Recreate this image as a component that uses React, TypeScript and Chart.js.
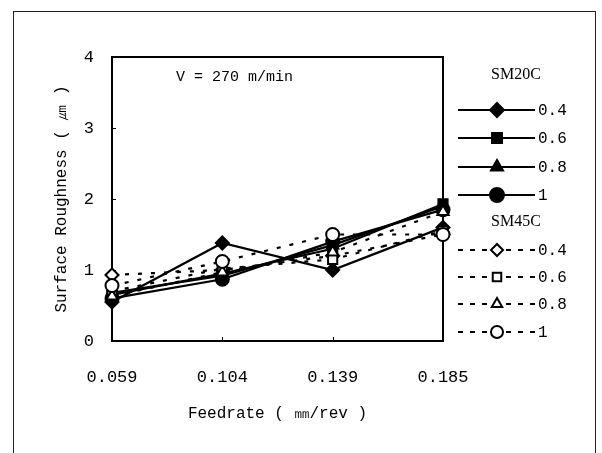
import React, { useEffect, useRef } from 'react';
import { Chart, registerables } from 'chart.js';

Chart.register(...registerables);

// ---------- data ----------
const feedrates = ['0.059', '0.104', '0.139', '0.185'];
const yTickValues = [0, 1, 2, 3, 4];
const seriesLabels = ['0.4', '0.6', '0.8', '1'];
const groupTitles = ['SM20C', 'SM45C'];
const annotationText = 'V = 270 m/min';
const xTitle = 'Feedrate ( ㎜/rev )';
const yTitle = 'Surface Roughness ( ㎛ )';

const sm20c_04 = [0.55, 1.38, 1.0, 1.6];
const sm20c_06 = [0.65, 0.95, 1.3, 1.93];
const sm20c_08 = [0.68, 0.92, 1.35, 1.9];
const sm20c_10 = [0.6, 0.87, 1.4, 1.85];
const sm45c_04 = [0.93, 1.0, 1.2, 1.5];
const sm45c_06 = [0.7, 1.02, 1.15, 1.55];
const sm45c_08 = [0.63, 0.97, 1.25, 1.82];
const sm45c_10 = [0.78, 1.12, 1.5, 1.5];

const markerStyles = ['rectRot', 'rect', 'triangle', 'circle'];

const MONO = '"Liberation Mono", "DejaVu Sans Mono", monospace';
const SERIF = '"Liberation Serif", "DejaVu Serif", serif';

function drawMarker(ctx: CanvasRenderingContext2D, style: string, x: number, y: number, r: number, filled: boolean) {
  ctx.save();
  ctx.setLineDash([]);
  ctx.beginPath();
  if (style === 'circle') {
    ctx.arc(x, y, r, 0, Math.PI * 2);
  } else if (style === 'rect') {
    const s = r * Math.SQRT1_2;
    ctx.rect(x - s, y - s, 2 * s, 2 * s);
  } else if (style === 'rectRot') {
    ctx.moveTo(x, y - r);
    ctx.lineTo(x + r, y);
    ctx.lineTo(x, y + r);
    ctx.lineTo(x - r, y);
    ctx.closePath();
  } else if (style === 'triangle') {
    const h = r * 1.5;
    ctx.moveTo(x, y - r);
    ctx.lineTo(x + r * 0.866, y + r * 0.5);
    ctx.lineTo(x - r * 0.866, y + r * 0.5);
    ctx.closePath();
    void h;
  }
  ctx.fillStyle = filled ? '#000' : '#fff';
  ctx.fill();
  ctx.lineWidth = 2;
  ctx.strokeStyle = '#000';
  ctx.stroke();
  ctx.restore();
}

const framePlugin = {
  id: 'framePlugin',
  beforeDraw(chart: any) {
    const ctx = chart.ctx as CanvasRenderingContext2D;
    ctx.save();
    ctx.fillStyle = '#fff';
    ctx.fillRect(0, 0, chart.width, chart.height);
    ctx.strokeStyle = '#222';
    ctx.lineWidth = 1;
    ctx.strokeRect(13.5, 11.5, 582, 470);
    ctx.restore();
  },
  beforeDatasetsDraw(chart: any) {
    const ctx = chart.ctx as CanvasRenderingContext2D;
    const a = chart.chartArea;
    const xs = chart.scales.x;
    const ys = chart.scales.y;
    ctx.save();
    ctx.strokeStyle = '#000';
    ctx.lineWidth = 2;
    ctx.strokeRect(a.left, a.top, a.right - a.left, a.bottom - a.top);
    ctx.lineWidth = 1;
    // small inner ticks
    for (const v of yTickValues) {
      const py = Math.round(ys.getPixelForValue(v)) + 0.5;
      ctx.beginPath();
      ctx.moveTo(a.left, py);
      ctx.lineTo(a.left + 4, py);
      ctx.stroke();
    }
    for (let i = 0; i < feedrates.length; i++) {
      const px = Math.round(xs.getPixelForValue(i)) + 0.5;
      ctx.beginPath();
      ctx.moveTo(px, a.bottom);
      ctx.lineTo(px, a.bottom - 4);
      ctx.stroke();
    }
    // annotation
    ctx.fillStyle = '#000';
    ctx.font = `15px ${MONO}`;
    ctx.textAlign = 'left';
    ctx.textBaseline = 'middle';
    ctx.fillText(annotationText, a.left + 64, a.top + 20);
    ctx.restore();
  },
  afterDraw(chart: any) {
    const ctx = chart.ctx as CanvasRenderingContext2D;
    ctx.save();
    const x0 = 458, x1 = 535, xm = 497, xt = 538;
    const titleY = [75, 222];
    const itemY = [[110, 138, 167, 195], [250, 277, 304, 332]];
    for (let g = 0; g < 2; g++) {
      ctx.fillStyle = '#000';
      ctx.font = `16px ${SERIF}`;
      ctx.textAlign = 'center';
      ctx.textBaseline = 'middle';
      ctx.fillText(groupTitles[g], 516, titleY[g]);
      for (let i = 0; i < 4; i++) {
        const y = itemY[g][i];
        ctx.strokeStyle = '#000';
        ctx.lineWidth = 2;
        ctx.setLineDash(g === 0 ? [] : [5, 7]);
        ctx.beginPath();
        ctx.moveTo(x0, y);
        ctx.lineTo(x1, y);
        ctx.stroke();
        ctx.setLineDash([]);
        drawMarker(ctx, markerStyles[i], xm, y, g === 0 ? 7 : 6, g === 0);
        ctx.fillStyle = '#000';
        ctx.font = `16px ${MONO}`;
        ctx.textAlign = 'left';
        ctx.fillText(seriesLabels[i], xt, y + 1);
      }
    }
    ctx.restore();
  },
};

function makeDataset(label: string, data: number[], idx: number, solid: boolean) {
  return {
    label,
    data,
    borderColor: '#000',
    borderWidth: solid ? 2.2 : 2.2,
    borderDash: solid ? [] : [4, 9],
    backgroundColor: solid ? '#000' : '#fff',
    pointBackgroundColor: solid ? '#000' : '#fff',
    pointBorderColor: '#000',
    pointBorderWidth: 2,
    pointStyle: markerStyles[idx],
    pointRadius: markerStyles[idx] === 'circle' ? 6.5 : 6.5,
    fill: false,
    tension: 0,
    clip: false as any,
  };
}

export default function App() {
  const canvasRef = useRef<HTMLCanvasElement | null>(null);

  useEffect(() => {
    if (!canvasRef.current) return;
    const solidSeries = [sm20c_04, sm20c_06, sm20c_08, sm20c_10];
    const dottedSeries = [sm45c_04, sm45c_06, sm45c_08, sm45c_10];
    const datasets: any[] = [];
    dottedSeries.forEach((d, i) => datasets.push(makeDataset('SM45C ' + seriesLabels[i], d, i, false)));
    solidSeries.forEach((d, i) => datasets.push(makeDataset('SM20C ' + seriesLabels[i], d, i, true)));
    // put open markers on top: chart.js draws first dataset last
    datasets.reverse();
    datasets.forEach((d) => void d);
    const ordered = [...datasets.filter((d) => d.label.startsWith('SM45C')), ...datasets.filter((d) => d.label.startsWith('SM20C'))];

    const chart = new Chart(canvasRef.current, {
      type: 'line',
      data: { labels: feedrates, datasets: ordered },
      options: {
        animation: false,
        responsive: false,
        maintainAspectRatio: false,
        layout: { padding: { left: 0, right: 159, top: 57, bottom: 0 } },
        plugins: { legend: { display: false }, tooltip: { enabled: false } },
        scales: {
          x: {
            type: 'category',
            offset: false,
            grid: { display: false, drawTicks: false },
            border: { display: false },
            ticks: { color: '#000', font: { family: MONO, size: 17 }, padding: 26, maxRotation: 0, autoSkip: false },
            title: { display: true, text: xTitle, color: '#000', font: { family: MONO, size: 16 }, padding: { top: 0, bottom: 30 } },
            afterFit: (s: any) => { s.height = 112; },
          },
          y: {
            type: 'linear',
            min: 0,
            max: 4,
            grid: { display: false, drawTicks: false },
            border: { display: false },
            ticks: { stepSize: 1, color: '#000', font: { family: MONO, size: 17 }, padding: 18 },
            title: { display: true, text: yTitle, color: '#000', font: { family: MONO, size: 16 }, padding: { top: 52, bottom: 0 } },
            afterFit: (s: any) => { s.width = 112; },
          },
        },
      },
      plugins: [framePlugin],
    } as any);
    return () => chart.destroy();
  }, []);

  return (
    <div style={{ position: 'fixed', left: 0, top: 0, width: 602, height: 453, background: '#fff' }}>
      <canvas ref={canvasRef} width={602} height={453} style={{ width: 602, height: 453 }} />
    </div>
  );
}
